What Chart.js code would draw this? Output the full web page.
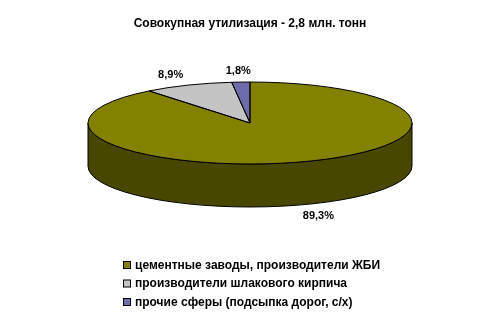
<!DOCTYPE html>
<html>
<head>
<meta charset="utf-8">
<script src="https://cdn.jsdelivr.net/npm/chart.js@4/dist/chart.umd.min.js"></script>
<style>
  html, body { margin: 0; padding: 0; background: #fff; }
  #wrap { width: 500px; height: 318px; }
</style>
</head>
<body>
<div id="wrap"><canvas id="chart" width="500" height="318"></canvas></div>
<script>
const title = 'Совокупная утилизация - 2,8 млн. тонн';
const categories = [
  'цементные заводы, производители ЖБИ',
  'производители шлакового кирпича',
  'прочие сферы (подсыпка дорог, с/х)'
];
const shares = [89.3, 8.9, 1.8];
const topColors = ['#828200', '#c4c4c4', '#6c6caa'];
const sideColors = ['#474700', '#7a7a7a', '#3e3e70'];

// 3D look: pie squashed into an ellipse, with an extruded side
const CX = 250, CY = 123, TILT = 0.253, DEPTH = 43;
const FONT = '"Liberation Sans", Arial, sans-serif';

const toScreen = (el, a, k = 1) => ({
  x: CX + Math.cos(a) * el.outerRadius * k,
  y: CY + Math.sin(a) * el.outerRadius * TILT * k
});

const pie3d = {
  id: 'pie3d',
  beforeDatasetsDraw(chart) {
    const ctx = chart.ctx;
    const arcs = chart.getDatasetMeta(0).data;
    // side walls for the front half
    arcs.forEach((el, i) => {
      const R = el.outerRadius, r = R * TILT;
      const a = Math.max(el.startAngle, 0), b = Math.min(el.endAngle, Math.PI);
      if (b <= a) return;
      ctx.save();
      ctx.beginPath();
      ctx.ellipse(CX, CY, R, r, 0, a, b);
      ctx.ellipse(CX, CY + DEPTH, R, r, 0, b, a, true);
      ctx.closePath();
      ctx.fillStyle = sideColors[i];
      ctx.fill();
      ctx.lineWidth = 1;
      ctx.strokeStyle = '#000';
      ctx.stroke();
      ctx.restore();
    });
    const el0 = arcs[0];
    ctx.save();
    ctx.translate(CX, CY);
    ctx.scale(1, TILT);
    ctx.translate(-el0.x, -el0.y);
  },
  afterDatasetsDraw(chart) {
    const ctx = chart.ctx;
    ctx.restore();
    const arcs = chart.getDatasetMeta(0).data;
    // outlines of the top face
    arcs.forEach(el => {
      ctx.save();
      ctx.beginPath();
      ctx.moveTo(CX, CY);
      ctx.ellipse(CX, CY, el.outerRadius, el.outerRadius * TILT, 0, el.startAngle, el.endAngle);
      ctx.closePath();
      ctx.lineWidth = 1;
      ctx.strokeStyle = '#000';
      ctx.stroke();
      ctx.restore();
    });
    // value labels
    ctx.save();
    ctx.font = 'bold 11px ' + FONT;
    ctx.fillStyle = '#000';
    ctx.textAlign = 'center';
    ctx.textBaseline = 'middle';
    arcs.forEach((el, i) => {
      const mid = (el.startAngle + el.endAngle) / 2;
      const p = toScreen(el, mid, 1.28);
      const y = p.y + (Math.sin(mid) > 0 ? DEPTH : 0);
      ctx.fillText(shares[i].toFixed(1).replace('.', ',') + '%', p.x, y);
    });
    ctx.restore();
  },
  afterDraw(chart) {
    const ctx = chart.ctx;
    ctx.save();
    ctx.font = 'bold 12px ' + FONT;
    ctx.textBaseline = 'middle';
    categories.forEach((c, i) => {
      const y = 265 + i * 18.5;
      ctx.fillStyle = topColors[i];
      ctx.fillRect(123, y - 3.5, 7, 7);
      ctx.strokeStyle = '#000';
      ctx.lineWidth = 1;
      ctx.strokeRect(123.5, y - 3.5, 7, 7);
      ctx.fillStyle = '#000';
      ctx.fillText(c, 135, y + 0.5);
    });
    ctx.restore();
  }
};

new Chart(document.getElementById('chart'), {
  type: 'pie',
  data: {
    labels: categories,
    datasets: [{
      data: shares,
      backgroundColor: topColors,
      borderWidth: 0,
      radius: 162,
      clip: false
    }]
  },
  options: {
    responsive: false,
    animation: false,
    rotation: 0,
    layout: { padding: { bottom: 60 } },
    plugins: {
      legend: { display: false },
      tooltip: { enabled: false },
      title: {
        display: true,
        text: title,
        color: '#000',
        font: { family: FONT, size: 12, weight: 'bold' },
        padding: { top: 16, bottom: 8 }
      }
    }
  },
  plugins: [pie3d]
});
</script>
</body>
</html>
